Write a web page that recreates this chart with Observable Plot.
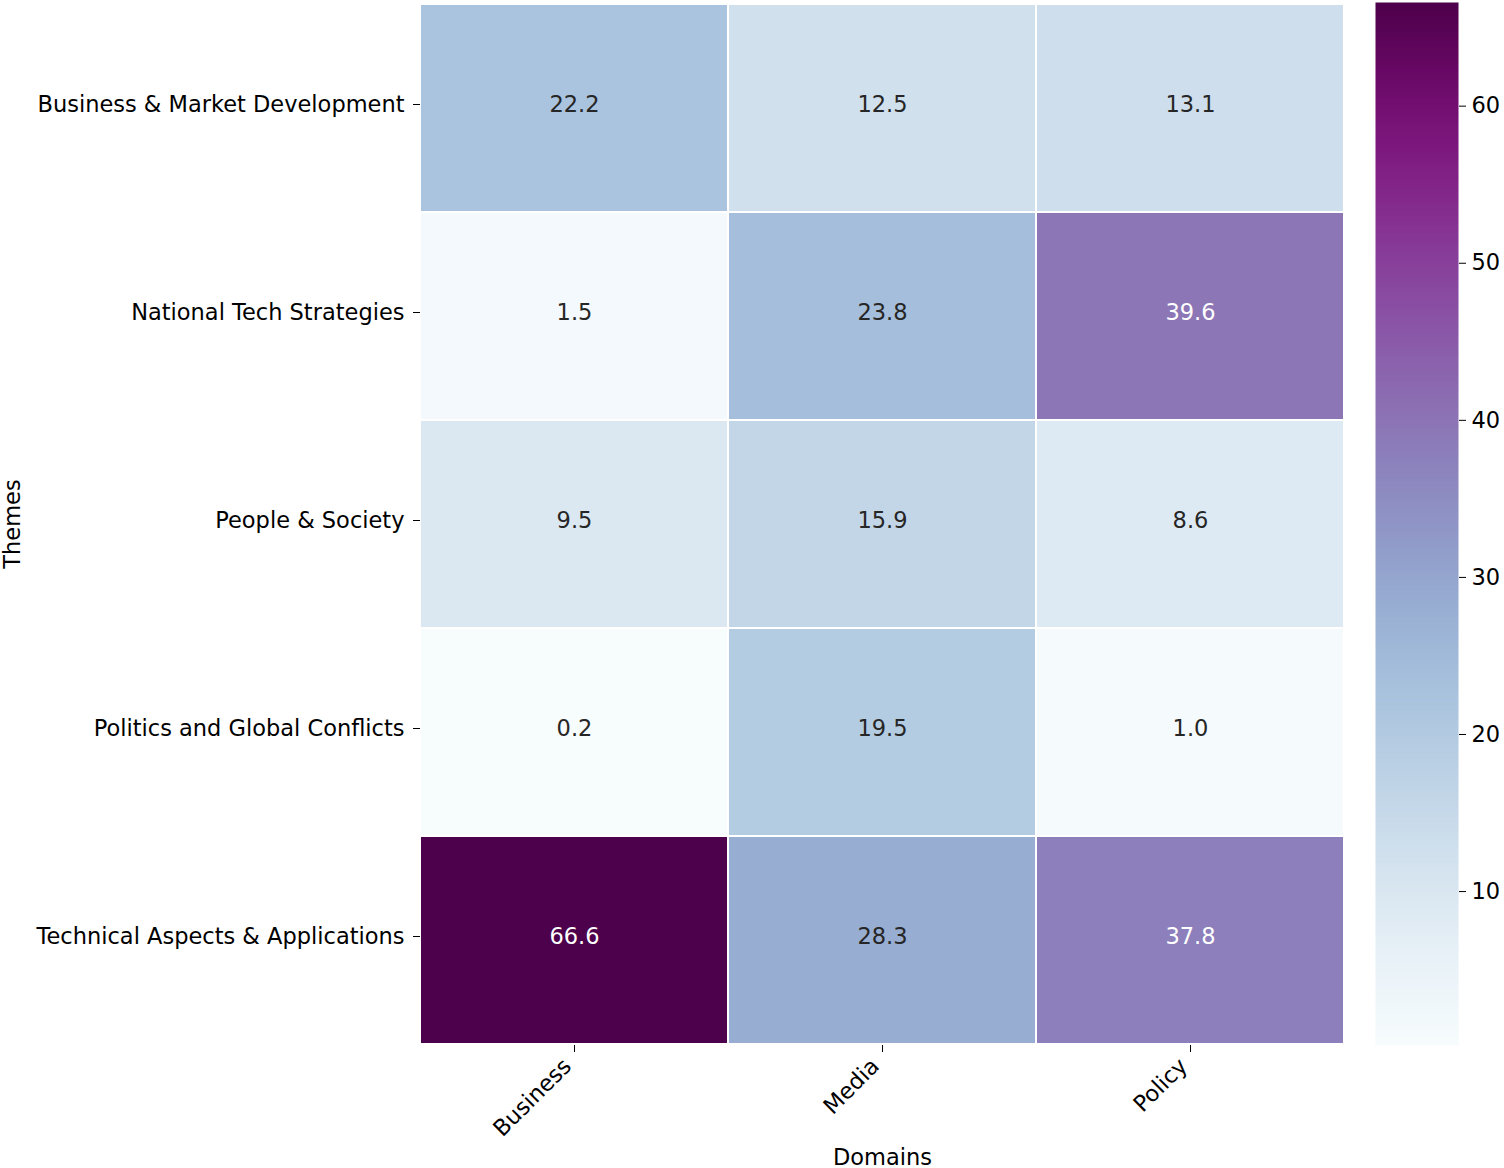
<!DOCTYPE html>
<html>
<head>
<meta charset="utf-8">
<script src="https://cdn.jsdelivr.net/npm/d3@7"></script>
<script src="https://cdn.jsdelivr.net/npm/@observablehq/plot@0.6"></script>
<style>
  html, body { margin: 0; padding: 0; background: #fff; }
  #wrap { position: relative; width: 1504px; height: 1168px; }
  #wrap svg { position: absolute; left: 0; top: 0; }
</style>
</head>
<body>
<div id="wrap"></div>
<script>
const themes = [
  "Business & Market Development",
  "National Tech Strategies",
  "People & Society",
  "Politics and Global Conflicts",
  "Technical Aspects & Applications"
];
const domains = ["Business", "Media", "Policy"];
const businessValues = [22.2, 1.5, 9.5, 0.2, 66.6];
const mediaValues = [12.5, 23.8, 15.9, 19.5, 28.3];
const policyValues = [13.1, 39.6, 8.6, 1.0, 37.8];
const colorbarTicks = [10, 20, 30, 40, 50, 60];

const series = {Business: businessValues, Media: mediaValues, Policy: policyValues};
const cells = [];
themes.forEach((t, i) => {
  domains.forEach(d => cells.push({theme: t, domain: d, value: series[d][i]}));
});
const allVals = cells.map(c => c.value);
const vmin = d3.min(allVals), vmax = d3.max(allVals);
const interp = d3.interpolateBuPu;
const colorOf = v => interp((v - vmin) / (vmax - vmin));
const textColor = v => {
  const c = d3.rgb(colorOf(v));
  const lin = x => { x /= 255; return x <= 0.03928 ? x / 12.92 : Math.pow((x + 0.055) / 1.055, 2.4); };
  const L = 0.2126 * lin(c.r) + 0.7152 * lin(c.g) + 0.0722 * lin(c.b);
  return L > 0.408 ? "#262626" : "#ffffff";
};

const font = "DejaVu Sans, sans-serif";
const fs = 22.5;

const main = Plot.plot({
  width: 1504,
  height: 1168,
  marginLeft: 420,
  marginRight: 160,
  marginTop: 2,
  marginBottom: 123,
  style: {fontFamily: font, fontSize: fs + "px", color: "#000", background: "transparent"},
  x: {type: "band", domain: domains, padding: 0},
  y: {type: "band", domain: themes, padding: 0},
  color: {type: "linear", domain: [vmin, vmax], interpolate: interp},
  marks: [
    Plot.cell(cells, {x: "domain", y: "theme", fill: "value", inset: 1}),
    Plot.text(cells, {
      x: "domain", y: "theme",
      text: d => d.value.toFixed(1),
      fill: d => textColor(d.value),
      fontSize: fs,
      dy: -4
    }),
    Plot.axisX({tickSize: 7, tickFormat: () => "", label: null}),
    Plot.axisX({
      tickSize: 0, tickPadding: 17, tickRotate: -45, dx: -7,
      label: "Domains", labelAnchor: "center", labelArrow: "none", labelOffset: 119
    }),
    Plot.axisY({
      tickSize: 7, tickPadding: 9, dy: -4,
      label: "Themes", labelAnchor: "center", labelArrow: "none", labelOffset: 416
    })
  ]
});

const bar = Plot.plot({
  width: 1504,
  height: 1168,
  marginLeft: 1375,
  marginRight: 46,
  marginTop: 2,
  marginBottom: 123,
  style: {fontFamily: font, fontSize: fs + "px", color: "#000", background: "transparent"},
  x: {domain: [0, 1], axis: null},
  y: {domain: [vmin, vmax]},
  color: {type: "linear", domain: [vmin, vmax], interpolate: interp},
  marks: [
    Plot.raster({x1: 0, x2: 1, y1: vmin, y2: vmax, width: 1, height: 500, fill: (x, y) => y, imageRendering: "auto"}),
    Plot.axisY({anchor: "right", ticks: colorbarTicks, tickSize: 7, tickPadding: 6, label: null})
  ]
});

const wrap = document.getElementById("wrap");
wrap.appendChild(main);
wrap.appendChild(bar);
</script>
</body>
</html>
